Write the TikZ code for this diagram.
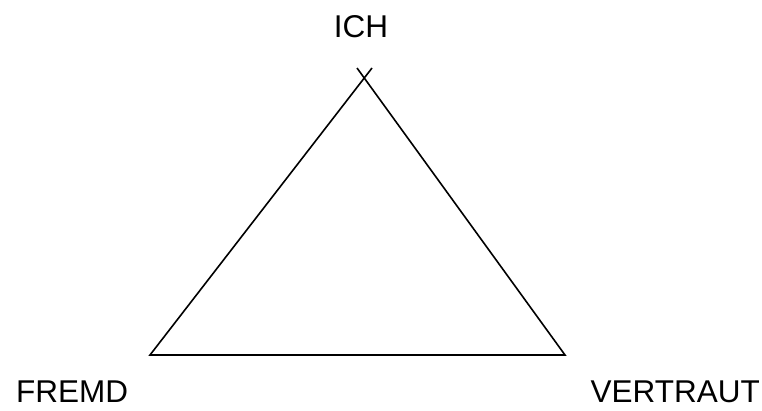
\documentclass[tikz,border=0pt]{standalone}
\usepackage{fontspec}
\setmainfont{Liberation Sans}
\begin{document}
\begin{tikzpicture}[x=1pt,y=-1pt,
  lbl/.style={inner sep=0pt,text depth=0pt,font=\fontsize{31.5}{36}\selectfont},
  edge/.style={line width=1.6pt,line cap=butt,line join=miter}]
\useasboundingbox (0,0) rectangle (762,410);
\coordinate (bl) at (150,355);
\coordinate (br) at (565,355);
\coordinate (tl) at (372,68);
\coordinate (tr) at (357,68);
\draw[edge] (tl) -- (bl) -- (br) -- (tr);
\node[lbl,anchor=base] (ich) at (361,37) {ICH};
\node[lbl,anchor=base west] (fremd) at (16,402) {FREMD};
\node[lbl,anchor=base east] (vertraut) at (760,402) {VERTRAUT};
\end{tikzpicture}
\end{document}
